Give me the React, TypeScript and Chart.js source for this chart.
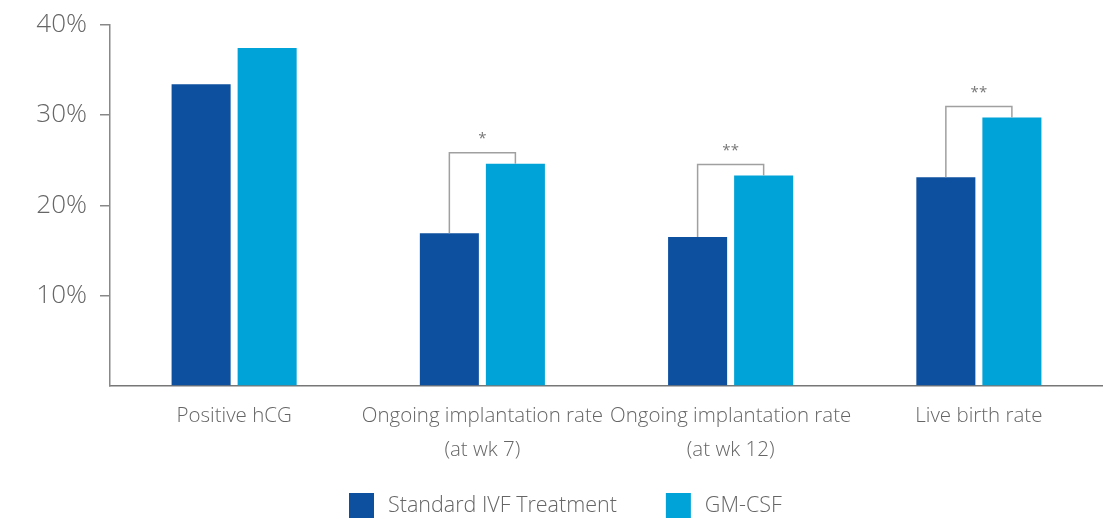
import React, { useEffect, useRef } from "react";
import { Chart, registerables } from "chart.js";

Chart.register(...registerables);

const categories: string[][] = [
  ["Positive hCG"],
  ["Ongoing implantation rate", "(at wk 7)"],
  ["Ongoing implantation rate", "(at wk 12)"],
  ["Live birth rate"],
];
const standardIVF = [33.4, 16.9, 16.5, 23.1];
const gmCSF = [37.4, 24.6, 23.3, 29.7];
const significance = ["", "*", "**", "**"];
const yTicks = [10, 20, 30, 40];

const FONT = "'Open Sans', 'Noto Sans', sans-serif";

const bracketPlugin = {
  id: "brackets",
  afterDatasetsDraw(chart: any) {
    const ctx = chart.ctx;
    const m0 = chart.getDatasetMeta(0);
    const m1 = chart.getDatasetMeta(1);
    ctx.save();
    significance.forEach((s, i) => {
      if (!s) return;
      const a = m0.data[i];
      const b = m1.data[i];
      const top = Math.min(a.y, b.y) - 11;
      ctx.strokeStyle = "#a0a0a0";
      ctx.lineWidth = 1.5;
      ctx.beginPath();
      ctx.moveTo(a.x, a.y);
      ctx.lineTo(a.x, top);
      ctx.lineTo(b.x, top);
      ctx.lineTo(b.x, b.y);
      ctx.stroke();
      ctx.fillStyle = "#777";
      ctx.font = `15px ${FONT}`;
      ctx.textAlign = "center";
      ctx.textBaseline = "middle";
      ctx.fillText(s, (a.x + b.x) / 2, top - 14);
    });
    ctx.restore();
  },
};

const legendPlugin = {
  id: "customLegend",
  afterDraw(chart: any) {
    const ctx = chart.ctx;
    ctx.save();
    ctx.font = `300 21.5px ${FONT}`;
    ctx.textBaseline = "middle";
    ctx.textAlign = "left";
    let x = 349;
    const boxTop = 493;
    const box = 25;
    const cy = boxTop + box / 2 + 0.5;
    chart.data.datasets.forEach((ds: any) => {
      ctx.fillStyle = ds.backgroundColor;
      ctx.fillRect(x, boxTop, box, box);
      ctx.fillStyle = "#666";
      ctx.fillText(ds.label, x + box + 14, cy);
      x += box + 14 + ctx.measureText(ds.label).width + 49;
    });
    ctx.restore();
  },
};

export default function App() {
  const ref = useRef<HTMLCanvasElement | null>(null);
  useEffect(() => {
    if (!ref.current) return;
    const chart = new Chart(ref.current, {
      type: "bar",
      data: {
        labels: categories,
        datasets: [
          {
            label: "Standard IVF Treatment",
            data: standardIVF,
            backgroundColor: "#0E50A0",
          },
          {
            label: "GM-CSF",
            data: gmCSF,
            backgroundColor: "#00A3D7",
          },
        ],
      },
      options: {
        animation: false,
        responsive: true,
        maintainAspectRatio: false,
        layout: { padding: { top: 24.5, right: -4, left: 0, bottom: 52 } },
        datasets: {
          bar: { categoryPercentage: 0.532, barPercentage: 0.894 },
        },
        plugins: {
          tooltip: { enabled: false },
          legend: { display: false },
        },
        scales: {
          x: {
            afterFit(scale: any) {
              scale.height = 80;
              scale.paddingLeft = 0;
              scale.paddingRight = 0;
            },
            grid: { display: true, drawOnChartArea: false, drawTicks: false },
            border: { display: true, color: "#777", width: 1.5 },
            ticks: {
              color: "#666",
              padding: 13,
              maxRotation: 0,
              autoSkip: false,
              font: { family: FONT, size: 20.5, weight: 300, lineHeight: 1.66 },
            },
          },
          y: {
            min: 0,
            max: 40,
            afterFit(scale: any) {
              scale.width = 110;
              scale.paddingTop = 0;
              scale.paddingBottom = 0;
            },
            afterBuildTicks(scale: any) {
              scale.ticks = [0, ...yTicks].map((v) => ({ value: v }));
            },
            grid: {
              drawOnChartArea: false,
              drawTicks: true,
              tickLength: 10,
              tickColor: (c: any) => (c.tick && c.tick.value === 0 ? "rgba(0,0,0,0)" : "#888"),
              lineWidth: 1.5,
            },
            border: { display: true, color: "#888", width: 1.5 },
            ticks: {
              color: "#666",
              padding: 13,
              font: { family: FONT, size: 26, weight: 300 },
              callback: (v: any) => (v === 0 ? "" : `${v}%`),
            },
          },
        },
      },
      plugins: [bracketPlugin, legendPlugin],
    });
    return () => chart.destroy();
  }, []);
  return (
    <div
      style={{
        position: "fixed",
        left: 0,
        top: 0,
        width: 1103,
        height: 518,
        overflow: "hidden",
        background: "#fff",
      }}
    >
      <div style={{ position: "relative", width: 1103, height: 518 }}>
        <canvas ref={ref} />
      </div>
    </div>
  );
}
